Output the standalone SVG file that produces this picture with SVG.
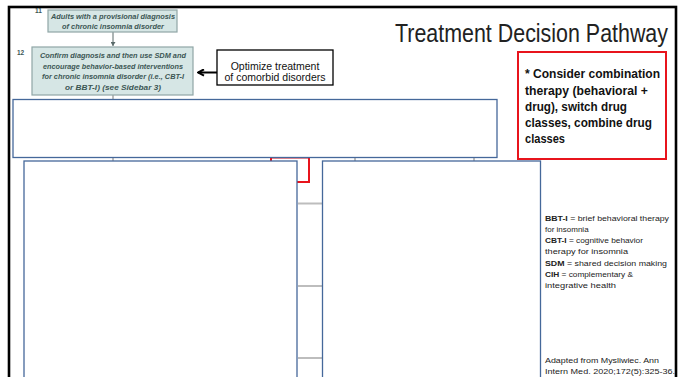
<svg xmlns="http://www.w3.org/2000/svg" width="683" height="377" viewBox="0 0 683 377">
<style>
.frame{fill:none;stroke:#000;stroke-width:2.6}
.gbox{fill:#d6e6e5;stroke:#8fa6a6;stroke-width:1.2}
.gtxt{font-family:"Liberation Sans",Arial,sans-serif;font-size:7.4px;font-weight:bold;font-style:italic;fill:#3c5654;text-anchor:middle}
.num{font-family:"Liberation Sans",Arial,sans-serif;font-size:6.5px;font-weight:bold;fill:#3c5654}
.bbox{fill:#fff;stroke:#45689a;stroke-width:1.3}
.rbox{fill:#fff;stroke:#e8141c;stroke-width:2}
.title{font-family:"Liberation Sans",Arial,sans-serif;font-size:22px;fill:#222}
.note{font-family:"Liberation Sans",Arial,sans-serif;font-size:13px;font-weight:bold;fill:#111}
.opt{font-family:"Liberation Sans",Arial,sans-serif;font-size:10.5px;fill:#111;text-anchor:middle}
.leg{font-family:"Liberation Sans",Arial,sans-serif;font-size:8px;fill:#222}
.gray{stroke:#bdbdbd;stroke-width:2;fill:none}
.red{stroke:#e8141c;stroke-width:2;fill:none}
</style>
<defs>
<marker id="ah" markerWidth="8" markerHeight="8" refX="7" refY="4" orient="auto" markerUnits="userSpaceOnUse">
<path d="M1,0.8 L7,4 L1,7.2" fill="none" stroke="#000" stroke-width="2"/>
</marker>
<marker id="gah" markerWidth="5" markerHeight="5" refX="4" refY="2.5" orient="auto" markerUnits="userSpaceOnUse">
<path d="M0,0 L4,2.5 L0,5 Z" fill="#5a6a6a"/>
</marker>
</defs>
<rect width="683" height="377" fill="#fff"/>
<rect class="frame" x="9" y="7" width="667" height="380"/>

<g id="connectors">
<line x1="113" y1="32" x2="113" y2="46" stroke="#5a6a6a" stroke-width="1" marker-end="url(#gah)"/>
<line x1="217" y1="72.5" x2="198" y2="72.5" stroke="#000" stroke-width="2" marker-end="url(#ah)"/>
<line class="gray" x1="113" y1="95" x2="113" y2="100"/>
<line class="gray" x1="113" y1="157" x2="113" y2="161"/>
<line class="gray" x1="355" y1="157" x2="355" y2="161"/>
<line class="gray" x1="474" y1="157" x2="474" y2="161"/>
<line class="gray" x1="298" y1="203.5" x2="322" y2="203.5"/>
<line class="gray" x1="298" y1="286" x2="322" y2="286"/>
<line class="gray" x1="298" y1="358" x2="322" y2="358"/>
<path class="red" d="M271,157.5 V161 M271,157.5 H309 V182 H297"/>
</g>

<g id="node-11">
<rect class="gbox" x="48" y="10" width="129" height="22"/>
<text class="num" x="35" y="13">11</text>
<text class="gtxt" x="113" y="19" textLength="124" lengthAdjust="spacingAndGlyphs">Adults with a provisional diagnosis</text>
<text class="gtxt" x="113" y="28.5">of chronic insomnia disorder</text>
</g>

<g id="node-12">
<rect class="gbox" x="32" y="47" width="161" height="48"/>
<text class="num" x="17" y="55">12</text>
<text class="gtxt" x="113" y="58" textLength="146" lengthAdjust="spacingAndGlyphs">Confirm diagnosis and then use SDM and</text>
<text class="gtxt" x="113" y="68.5" textLength="140" lengthAdjust="spacingAndGlyphs">encourage behavior-based interventions</text>
<text class="gtxt" x="113" y="79" textLength="142" lengthAdjust="spacingAndGlyphs">for chronic insomnia disorder (i.e., CBT-I</text>
<text class="gtxt" x="113" y="89.5" textLength="96" lengthAdjust="spacingAndGlyphs">or BBT-I) (see Sidebar 3)</text>
</g>

<g id="node-optimize">
<rect x="217" y="50" width="116" height="35" fill="#fff" stroke="#000" stroke-width="1.3"/>
<text class="opt" x="275" y="70">Optimize treatment</text>
<text class="opt" x="275" y="80.5">of comorbid disorders</text>
</g>

<g id="title">
<text class="title" transform="translate(395,42) scale(1,1.2)" x="0" y="0" textLength="273" lengthAdjust="spacingAndGlyphs">Treatment Decision Pathway</text>
</g>

<g id="node-note">
<rect class="rbox" x="518" y="52" width="148" height="107"/>
<text class="note" x="525" y="78" textLength="135" lengthAdjust="spacingAndGlyphs">* Consider combination</text>
<text class="note" x="525" y="94.5" textLength="123" lengthAdjust="spacingAndGlyphs">therapy (behavioral +</text>
<text class="note" x="525" y="111" textLength="102" lengthAdjust="spacingAndGlyphs">drug), switch drug</text>
<text class="note" x="525" y="127" textLength="127" lengthAdjust="spacingAndGlyphs">classes, combine drug</text>
<text class="note" x="525" y="143" textLength="40" lengthAdjust="spacingAndGlyphs">classes</text>
</g>

<g id="node-top">
<rect class="bbox" x="13" y="99.5" width="484" height="58"/>
</g>

<g id="node-left">
<rect class="bbox" x="24" y="161" width="273" height="230"/>
</g>

<g id="node-right">
<rect class="bbox" x="322.5" y="161" width="218" height="230"/>
</g>

<g id="legend">
<text class="leg" x="545" y="220.5" textLength="124" lengthAdjust="spacingAndGlyphs"><tspan font-weight="bold">BBT-I</tspan> = brief behavioral therapy</text>
<text class="leg" x="545" y="231.5">for insomnia</text>
<text class="leg" x="545" y="243" textLength="98" lengthAdjust="spacingAndGlyphs"><tspan font-weight="bold">CBT-I</tspan> = cognitive behavior</text>
<text class="leg" x="545" y="254" textLength="83" lengthAdjust="spacingAndGlyphs">therapy for insomnia</text>
<text class="leg" x="545" y="265.5" textLength="122" lengthAdjust="spacingAndGlyphs"><tspan font-weight="bold">SDM</tspan> = shared decision making</text>
<text class="leg" x="545" y="276.5" textLength="88" lengthAdjust="spacingAndGlyphs"><tspan font-weight="bold">CIH</tspan> = complementary &amp;</text>
<text class="leg" x="545" y="288" textLength="71" lengthAdjust="spacingAndGlyphs">integrative health</text>
<text class="leg" x="545" y="363" textLength="114" lengthAdjust="spacingAndGlyphs">Adapted from Mysliwiec. Ann</text>
<text class="leg" x="545" y="374" textLength="130" lengthAdjust="spacingAndGlyphs">Intern Med. 2020;172(5):325-36.</text>
</g>
</svg>
